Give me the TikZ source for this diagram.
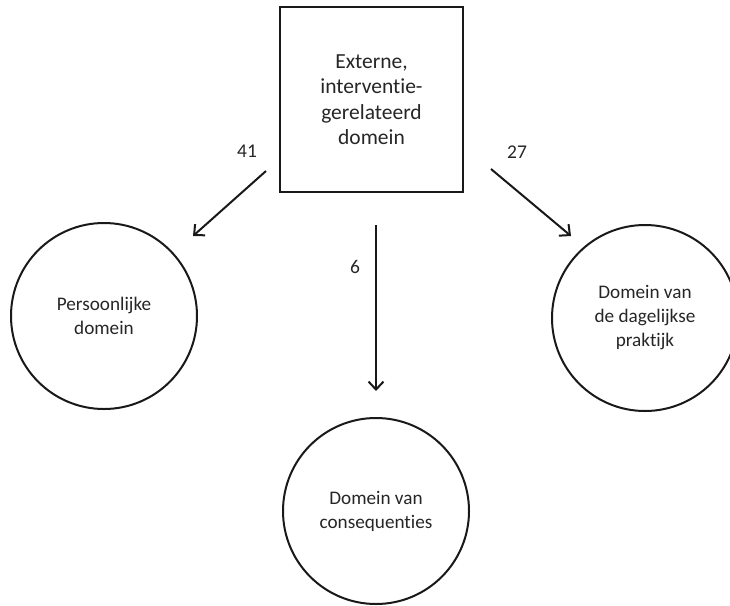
\documentclass[tikz,border=0pt]{standalone}
\usepackage{fontspec}
\setmainfont{Carlito}[Ligatures={NoCommon}]
\usetikzlibrary{arrows.meta}
\begin{document}
\begin{tikzpicture}[x=1pt,y=-1pt,
  domcircle/.style={draw=black!90,line width=2pt,circle,minimum size=186pt,inner sep=0pt,
     align=center,text=black!85,font=\fontsize{19.2}{24}\selectfont},
  extbox/.style={draw=black!90,line width=2pt,rectangle,minimum width=183pt,minimum height=185pt,
     inner sep=0pt,align=center,text=black!85,font=\fontsize{21.5}{25.5}\selectfont},
  flow/.style={line width=2pt,draw=black!90,-{Straight Barb[length=8pt,width=15pt,line width=2pt]}},
  count/.style={text=black!85,font=\fontsize{19.5}{22}\selectfont,inner sep=0pt}]
\useasboundingbox (0,0) rectangle (730,605);
\node[extbox] (ext) at (371.5,99.5) {Externe,\\interventie-\\gerelateerd\\domein};
\node[domcircle] (pers) at (104,316) {Persoonlijke\\domein};
\node[domcircle] (prak) at (645,318) {Domein van\\de dagelijkse\\praktijk};
\node[domcircle] (cons) at (376,511) {Domein van\\consequenties};
\coordinate (s41) at (266,171);
\coordinate (e41) at (193,236);
\coordinate (s27) at (491,169);
\coordinate (e27) at (571,236);
\coordinate (s6) at (376,225);
\coordinate (e6) at (376,391);
\draw[flow] (s41) -- (e41);
\draw[flow] (s27) -- (e27);
\draw[flow] (s6) -- (e6);
\node[count] (n41) at (247,151) {41};
\node[count] (n27) at (517,152) {27};
\node[count] (n6) at (355,267) {6};
\end{tikzpicture}
\end{document}
